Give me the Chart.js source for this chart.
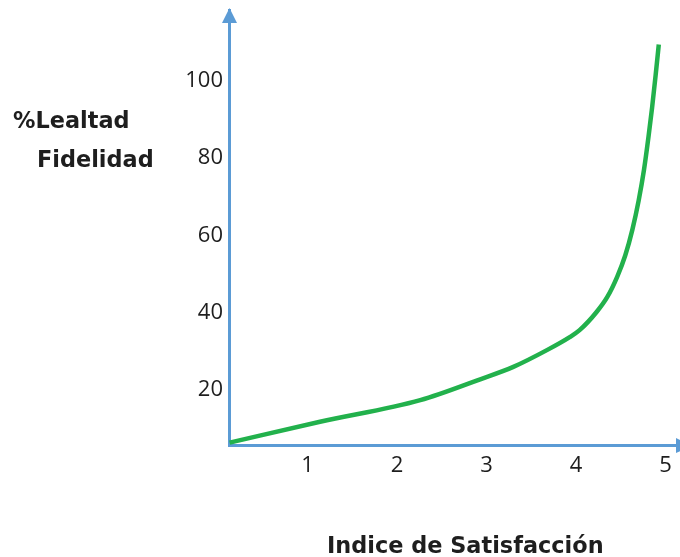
<!DOCTYPE html>
<html>
<head>
<meta charset="utf-8">
<script src="https://cdn.jsdelivr.net/npm/chart.js@4.4.1/dist/chart.umd.min.js"></script>
<style>
  html, body { margin: 0; padding: 0; background: #ffffff; }
  #wrap { width: 680px; height: 557px; position: relative; }
</style>
</head>
<body>
<div id="wrap"><canvas id="chart" width="680" height="557"></canvas></div>
<script>
// Satisfaction index (x) and loyalty percentage (y) along the curve
const satisfaction = [0.13, 1.14, 2.26, 2.93, 3.30, 3.68, 3.93, 4.04, 4.23, 4.35, 4.46, 4.55, 4.63, 4.70, 4.76, 4.81, 4.85, 4.89, 4.925];
const loyalty      = [6.4, 11.8, 17.4, 22.8, 26.0, 30.4, 33.7, 35.5, 40.2, 44.1, 49.3, 54.8, 61.5, 69.0, 77.0, 85.5, 93.0, 101.5, 109.4];

const xTicks = [1, 2, 3, 4, 5];
const yTicks = [20, 40, 60, 80, 100];

const yTitleLines = ['%Lealtad', 'Fidelidad'];
const xTitle = 'Indice de Satisfacción';

const AXIS_BLUE = '#5B9BD5';
const CURVE_GREEN = '#22B14C';
const TEXT = '#1e1e1e';

// Arrowheads on the axes and the free-standing axis captions
const axisDecor = {
  id: 'axisDecor',
  afterDraw(chart) {
    const { ctx, chartArea } = chart;
    const ax = chart.scales.y.right + 0.5;
    const ay = chart.scales.x.top + 0.5;
    ctx.save();
    ctx.fillStyle = AXIS_BLUE;
    // up arrow
    ctx.beginPath();
    ctx.moveTo(ax, chartArea.top - 2);
    ctx.lineTo(ax - 7.5, chartArea.top + 13);
    ctx.lineTo(ax + 7.5, chartArea.top + 13);
    ctx.closePath();
    ctx.fill();
    // right arrow
    ctx.beginPath();
    ctx.moveTo(chartArea.right + 12, ay);
    ctx.lineTo(chartArea.right - 4, ay - 7.5);
    ctx.lineTo(chartArea.right - 4, ay + 7.5);
    ctx.closePath();
    ctx.fill();

    ctx.fillStyle = TEXT;
    ctx.font = 'bold 22.4px "DejaVu Sans"';
    ctx.textBaseline = 'alphabetic';
    ctx.textAlign = 'left';
    ctx.fillText(yTitleLines[0], 13, 128);
    ctx.fillText(yTitleLines[1], 37, 167);
    ctx.fillText(xTitle, 327, 553);
    ctx.restore();
  }
};

new Chart(document.getElementById('chart'), {
  type: 'line',
  data: {
    datasets: [{
      data: satisfaction.map((x, i) => ({ x: x, y: loyalty[i] })),
      borderColor: CURVE_GREEN,
      borderWidth: 4.5,
      pointRadius: 0,
      cubicInterpolationMode: 'monotone',
      fill: false,
      clip: false
    }]
  },
  options: {
    responsive: false,
    animation: false,
    events: [],
    layout: { padding: { top: 10, right: 0, bottom: 0, left: 0 } },
    plugins: { legend: { display: false }, tooltip: { enabled: false }, title: { display: false } },
    scales: {
      x: {
        type: 'linear',
        min: 0.123,
        max: 5.162,
        afterBuildTicks: s => { s.ticks = xTicks.map(v => ({ value: v })); },
        afterFit: s => { s.height = 112; s.paddingLeft = 0; s.paddingRight = 0; },
        grid: { display: false, drawTicks: false },
        border: { display: true, color: AXIS_BLUE, width: 3 },
        ticks: {
          color: TEXT,
          padding: 8,
          maxRotation: 0,
          autoSkip: false,
          font: { family: '"Open Sans"', size: 22 }
        }
      },
      y: {
        type: 'linear',
        min: 5.8,
        max: 118.3,
        afterBuildTicks: s => { s.ticks = yTicks.map(v => ({ value: v })); },
        afterFit: s => { s.width = 229; s.paddingTop = 0; s.paddingBottom = 0; },
        grid: { display: false, drawTicks: false },
        border: { display: true, color: AXIS_BLUE, width: 3 },
        ticks: {
          color: TEXT,
          padding: 6,
          autoSkip: false,
          font: { family: '"Open Sans"', size: 22 }
        }
      }
    }
  },
  plugins: [axisDecor]
});
</script>
</body>
</html>
